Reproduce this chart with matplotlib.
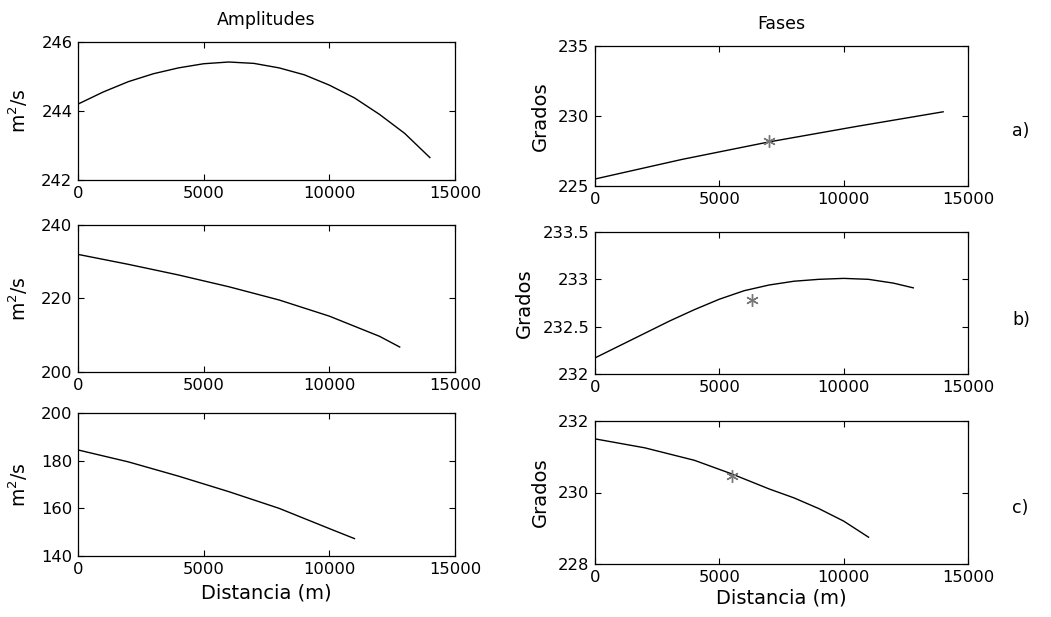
import matplotlib
matplotlib.use("Agg")
import matplotlib.pyplot as plt

plt.rcParams['font.family'] = ['DejaVu Sans']
plt.rcParams['mathtext.fontset'] = 'dejavusans'

# Data
amp_a_x = [0, 1000, 2000, 3000, 4000, 5000, 6000, 7000, 8000, 9000, 10000, 11000, 12000, 13000, 14000]
amp_a_y = [244.2, 244.55, 244.85, 245.08, 245.25, 245.37, 245.42, 245.38, 245.25, 245.05,
           244.75, 244.38, 243.9, 243.35, 242.65]
fas_a_x = [0, 3500, 7000, 10500, 14000]
fas_a_y = [225.5, 226.9, 228.15, 229.25, 230.3]
fas_a_star = (7000, 228.2)

amp_b_x = [0, 2000, 4000, 6000, 8000, 10000, 12000, 12800]
amp_b_y = [232.0, 229.3, 226.4, 223.2, 219.6, 215.2, 209.7, 206.8]
fas_b_x = [0, 1000, 2000, 3000, 4000, 5000, 6000, 7000, 8000, 9000, 10000, 11000, 12000, 12800]
fas_b_y = [232.17, 232.3, 232.43, 232.56, 232.68, 232.79, 232.88, 232.94, 232.98, 233.0,
           233.01, 233.0, 232.96, 232.91]
fas_b_star = (6300, 232.78)

amp_c_x = [0, 2000, 4000, 6000, 8000, 10000, 11000]
amp_c_y = [184.5, 179.5, 173.5, 167.0, 160.0, 151.5, 147.3]
fas_c_x = [0, 2000, 4000, 5500, 7000, 8000, 9000, 10000, 11000]
fas_c_y = [231.5, 231.25, 230.9, 230.52, 230.1, 229.85, 229.55, 229.2, 228.75]
fas_c_star = (5500, 230.45)

xticks = [0, 5000, 10000, 15000]
amp_yticks = [[242, 244, 246], [200, 220, 240], [140, 160, 180, 200]]
fas_yticks = [[225, 230, 235], [232, 232.5, 233, 233.5], [228, 230, 232]]
fas_yticklabels = [['225', '230', '235'], ['232', '232.5', '233', '233.5'], ['228', '230', '232']]
row_labels = ['a)', 'b)', 'c)']

W, H = 1051, 617
fig = plt.figure(figsize=(W / 100, H / 100), dpi=100)

left_rows = [(42, 180), (225, 372), (413, 556)]
right_rows = [(46, 186), (232, 374), (421, 564)]
left_x = (78, 455)
right_x = (595, 968)
label_y = [131, 320, 508]

def rect(xp, yp):
    return [xp[0] / W, 1 - yp[1] / H, (xp[1] - xp[0]) / W, (yp[1] - yp[0]) / H]

amp_data = [(amp_a_x, amp_a_y), (amp_b_x, amp_b_y), (amp_c_x, amp_c_y)]
fas_data = [(fas_a_x, fas_a_y), (fas_b_x, fas_b_y), (fas_c_x, fas_c_y)]
stars = [fas_a_star, fas_b_star, fas_c_star]

fs = 11.8
star_marker = (6, 2, 0)

def style(ax):
    ax.set_xlim(0, 15000)
    ax.set_xticks(xticks)
    ax.tick_params(direction='in', top=True, right=True, length=4, width=0.8,
                   labelsize=fs, pad=4)
    for s in ax.spines.values():
        s.set_linewidth(0.9)

for i in range(3):
    axL = fig.add_axes(rect(left_x, left_rows[i]))
    axL.plot(amp_data[i][0], amp_data[i][1], color='black', lw=1.0)
    style(axL)
    axL.set_yticks(amp_yticks[i])
    axL.set_ylim(amp_yticks[i][0], amp_yticks[i][-1])
    axL.set_ylabel('m$^2$/s', fontsize=13.5, labelpad=8)

    axR = fig.add_axes(rect(right_x, right_rows[i]))
    axR.plot(fas_data[i][0], fas_data[i][1], color='black', lw=1.0)
    axR.plot([stars[i][0]], [stars[i][1]], marker=star_marker, markersize=9,
             color='#777777', markeredgewidth=1.0, linestyle='none')
    style(axR)
    axR.set_yticks(fas_yticks[i])
    axR.set_yticklabels(fas_yticklabels[i])
    axR.set_ylim(fas_yticks[i][0], fas_yticks[i][-1])
    axR.set_ylabel('Grados', fontsize=14, labelpad=6)

    fig.text(1012 / W, 1 - label_y[i] / H, row_labels[i], fontsize=12.5,
             ha='left', va='center')

    if i == 0:
        axL.set_title('Amplitudes', fontsize=12.5, pad=12)
        axR.set_title('Fases', fontsize=12.5, pad=12)
    if i == 2:
        axL.set_xlabel('Distancia (m)', fontsize=14, labelpad=5)
        axR.set_xlabel('Distancia (m)', fontsize=14, labelpad=3)

fig.savefig('out.png', dpi=100, facecolor='white')
